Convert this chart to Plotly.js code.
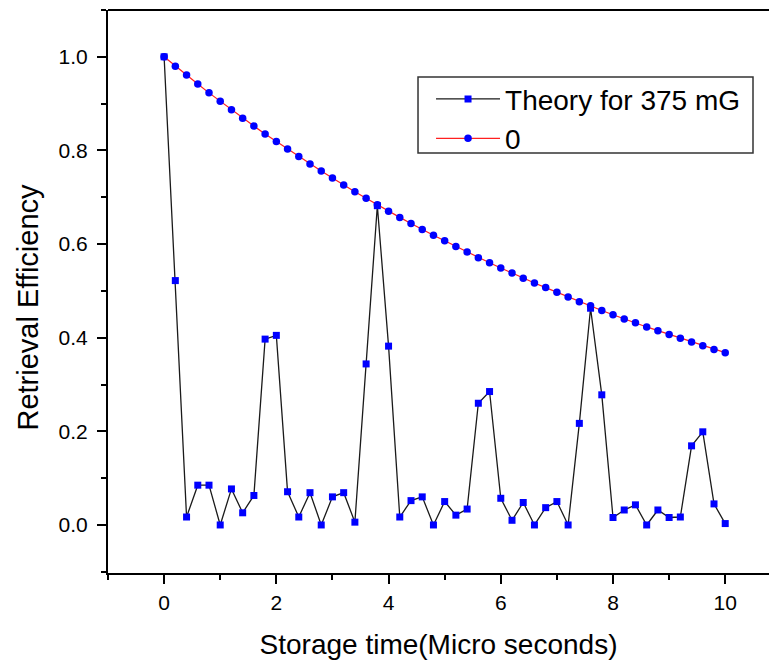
<!DOCTYPE html>
<html>
<head>
<meta charset="utf-8">
<script src="https://cdn.plot.ly/plotly-3.0.1.min.js"></script>
<style>html,body{margin:0;padding:0;background:#fff;}#chart{width:769px;height:666px;}</style>
</head>
<body>
<div id="chart"></div>
<script>
// Storage time (micro seconds)
var storageTime = [0.0,0.2,0.4,0.6,0.8,1.0,1.2,1.4,1.6,1.8,2.0,2.2,2.4,2.6,2.8,3.0,3.2,3.4,3.6,3.8,4.0,4.2,4.4,4.6,4.8,5.0,5.2,5.4,5.6,5.8,6.0,6.2,6.4,6.6,6.8,7.0,7.2,7.4,7.6,7.8,8.0,8.2,8.4,8.6,8.8,9.0,9.2,9.4,9.6,9.8,10.0];
// Series "Theory for 375 mG" (black line, blue squares)
var theory375 = [1.000,0.522,0.017,0.085,0.085,0.000,0.077,0.026,0.063,0.397,0.405,0.071,0.017,0.069,0.000,0.060,0.069,0.006,0.344,0.682,0.382,0.017,0.052,0.060,0.000,0.050,0.021,0.034,0.260,0.285,0.057,0.010,0.048,0.000,0.037,0.050,0.000,0.217,0.463,0.278,0.016,0.032,0.043,0.000,0.032,0.016,0.017,0.169,0.199,0.045,0.003];
// Series "0" (red line, blue circles)
var zeroField = [1.000,0.980,0.961,0.942,0.923,0.905,0.887,0.869,0.852,0.835,0.819,0.803,0.787,0.771,0.756,0.741,0.726,0.712,0.698,0.684,0.670,0.657,0.644,0.631,0.619,0.607,0.595,0.583,0.571,0.560,0.549,0.538,0.527,0.517,0.507,0.497,0.487,0.477,0.468,0.458,0.449,0.440,0.432,0.423,0.415,0.407,0.399,0.391,0.383,0.375,0.368];
var seriesNames = ["Theory for 375 mG", "0"];
// Tick labels
var xTickVals = [0,2,4,6,8,10];
var xTickText = ["0","2","4","6","8","10"];
var yTickVals = [0.0,0.2,0.4,0.6,0.8,1.0];
var yTickText = ["0.0","0.2","0.4","0.6","0.8","1.0"];
var xTitle = "Storage time(Micro seconds)";
var yTitle = "Retrieval Efficiency";

var FONT = "Arial, 'Liberation Sans', sans-serif";

var traces = [
  {
    x: storageTime, y: theory375, name: seriesNames[0],
    type: "scatter", mode: "lines+markers",
    line: {color: "#1a1a1a", width: 1.3},
    marker: {symbol: "square", color: "#0000ff", size: 7}
  },
  {
    x: storageTime, y: zeroField, name: seriesNames[1],
    type: "scatter", mode: "lines+markers",
    line: {color: "#ff2020", width: 1.2},
    marker: {symbol: "circle", color: "#0000ff", size: 7.5}
  }
];

var layout = {
  width: 769, height: 666,
  margin: {l: 108, r: 0, t: 10, b: 93, pad: 0},
  paper_bgcolor: "#ffffff", plot_bgcolor: "#ffffff",
  font: {family: FONT, color: "#000"},
  showlegend: true,
  legend: {
    x: 0.4887, y: 0.886, xanchor: "left", yanchor: "top",
    bgcolor: "rgba(0,0,0,0)", borderwidth: 0,
    font: {family: FONT, size: 28, color: "#000"},
    itemwidth: 64, tracegroupgap: 0
  },
  xaxis: {
    range: [-1, 10.78],
    tickmode: "array", tickvals: xTickVals, ticktext: xTickText,
    ticks: "outside", ticklen: 9, tickwidth: 2, tickcolor: "#000",
    minor: {dtick: 1, tick0: 0, ticks: "outside", ticklen: 5, tickwidth: 2, tickcolor: "#000", showgrid: false},
    showline: true, linewidth: 2, linecolor: "#000",
    showgrid: false, zeroline: false,
    tickfont: {family: FONT, size: 21, color: "#000"},
    ticklabelstandoff: 1,
    title: {text: xTitle, font: {family: FONT, size: 28, color: "#000"}, standoff: 21}
  },
  yaxis: {
    range: [-0.1026, 1.1],
    tickmode: "array", tickvals: yTickVals, ticktext: yTickText,
    ticks: "outside", ticklen: 9, tickwidth: 2, tickcolor: "#000",
    minor: {dtick: 0.1, tick0: 0, ticks: "outside", ticklen: 5, tickwidth: 2, tickcolor: "#000", showgrid: false},
    showline: true, linewidth: 2, linecolor: "#000",
    showgrid: false, zeroline: false,
    tickfont: {family: FONT, size: 21, color: "#000"},
    ticklabelstandoff: 5
  },
  annotations: [
    {text: yTitle, xref: "paper", yref: "paper", x: -0.121, y: 0.4716,
     xanchor: "center", yanchor: "middle", textangle: -90, showarrow: false,
     font: {family: FONT, size: 29, color: "#000"}}
  ],
  shapes: [
    {type: "line", xref: "paper", yref: "paper", x0: 0, x1: 1, y0: 1, y1: 1, line: {color: "#000", width: 2}},
    {type: "rect", xref: "paper", yref: "paper", x0: 0.469, x1: 0.9758, y0: 0.746, y1: 0.881,
     line: {color: "#333", width: 1.5}, fillcolor: "rgba(255,255,255,0)"}
  ]
};

Plotly.newPlot("chart", traces, layout, {displayModeBar: false, staticPlot: true});
</script>
</body>
</html>
